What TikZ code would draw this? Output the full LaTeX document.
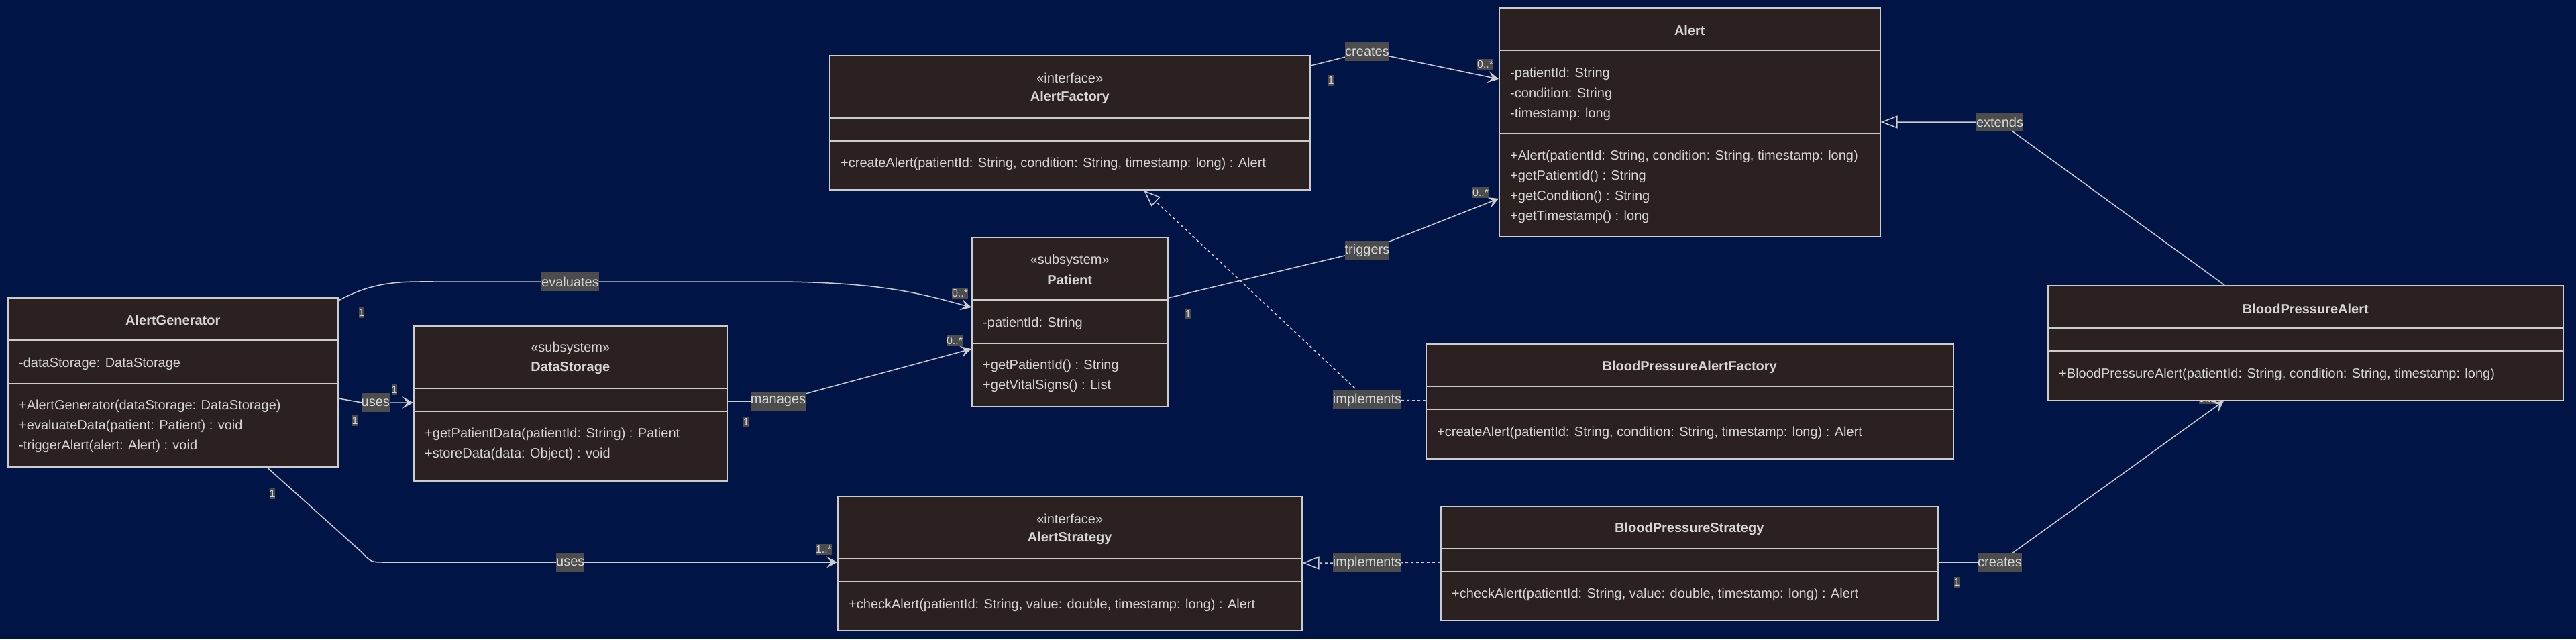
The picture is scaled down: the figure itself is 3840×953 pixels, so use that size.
\documentclass[tikz,border=0pt]{standalone}
\usepackage{fontspec}
\setmainfont{Liberation Sans}
\usetikzlibrary{arrows.meta}

\definecolor{bgnavy}{RGB}{0,21,70}
\definecolor{boxfill}{RGB}{43,33,33}
\definecolor{edgegray}{RGB}{204,204,204}
\definecolor{textgray}{RGB}{214,214,214}
\definecolor{tagfill}{RGB}{76,76,76}

\pgfdeclarelayer{behind}
\pgfsetlayers{behind,main}

\tikzset{
  classbox/.style={draw=edgegray, fill=boxfill, line width=1.5pt, anchor=north west, inner sep=0pt},
  divider/.style={draw=edgegray, line width=1.5pt},
  ctitle/.style={text=textgray, font=\fontsize{20}{24}\selectfont\bfseries, inner sep=0pt},
  cstereo/.style={text=textgray, font=\fontsize{20}{24}\selectfont, inner sep=0pt},
  member/.style={text=textgray, font=\fontsize{20}{24}\selectfont, anchor=west, xshift=17pt, inner sep=0pt},
  rel/.style={draw=edgegray, line width=1.5pt},
  nav/.style={rel, -{Stealth[length=16pt,width=17pt,inset=7pt]}},
  real/.style={rel, dash pattern=on 4pt off 4pt, -{Triangle[open,length=25pt,width=19pt]}},
  gen/.style={rel, -{Triangle[open,length=25pt,width=19pt]}},
  elabel/.style={fill=tagfill, text=textgray, font=\fontsize{20}{24}\selectfont, inner xsep=0pt, inner ysep=0pt, minimum height=28pt},
  mult/.style={fill=tagfill, text=textgray, font=\fontsize{16}{18}\selectfont, inner xsep=0pt, inner ysep=0pt, minimum height=16pt},
}

\begin{document}
\begin{tikzpicture}[x=1pt,y=-1pt]

\useasboundingbox (0,0) rectangle (3840,953);

\begin{pgfonlayer}{behind}
% Background
\fill[bgnavy] (0,0) rectangle (3840,953);
% Multiplicity hidden under BloodPressureAlert
\node[mult] (m-bpc-dst) at (3291,594) {0..1};
\end{pgfonlayer}

% AlertGenerator
\node[classbox, minimum width=492pt, minimum height=252pt] (ag) at (11,443) {};
\draw[divider] (ag.west |- 0,507) -- (ag.east |- 0,507);
\draw[divider] (ag.west |- 0,572) -- (ag.east |- 0,572);
\node[ctitle] (ag-name) at (ag.north |- 0,477) {AlertGenerator};
\node[member] (ag-a1) at (ag.west |- 0,542) {-dataStorage: DataStorage};
\node[member] (ag-m1) at (ag.west |- 0,605) {+AlertGenerator(dataStorage: DataStorage)};
\node[member] (ag-m2) at (ag.west |- 0,635) {+evaluateData(patient: Patient) : void};
\node[member] (ag-m3) at (ag.west |- 0,665) {-triggerAlert(alert: Alert) : void};

% DataStorage
\node[classbox, minimum width=467pt, minimum height=231pt] (ds) at (616,485) {};
\draw[divider] (ds.west |- 0,579) -- (ds.east |- 0,579);
\draw[divider] (ds.west |- 0,613) -- (ds.east |- 0,613);
\node[cstereo] (ds-st) at (ds.north |- 0,519) {«subsystem»};
\node[ctitle] (ds-name) at (ds.north |- 0,549) {DataStorage};
\node[member] (ds-m1) at (ds.west |- 0,647) {+getPatientData(patientId: String) : Patient};
\node[member] (ds-m2) at (ds.west |- 0,677) {+storeData(data: Object) : void};

% AlertFactory
\node[classbox, minimum width=716pt, minimum height=200pt] (af) at (1236,82) {};
\draw[divider] (af.west |- 0,176) -- (af.east |- 0,176);
\draw[divider] (af.west |- 0,210) -- (af.east |- 0,210);
\node[cstereo] (af-st) at (af.north |- 0,116) {«interface»};
\node[ctitle] (af-name) at (af.north |- 0,145) {AlertFactory};
\node[member] (af-m1) at (af.west |- 0,244) {+createAlert(patientId: String, condition: String, timestamp: long) : Alert};

% Alert
\node[classbox, minimum width=568pt, minimum height=341pt] (al) at (2234,11) {};
\draw[divider] (al.west |- 0,75) -- (al.east |- 0,75);
\draw[divider] (al.west |- 0,199) -- (al.east |- 0,199);
\node[ctitle] (al-name) at (al.north |- 0,45) {Alert};
\node[member] (al-a1) at (al.west |- 0,110) {-patientId: String};
\node[member] (al-a2) at (al.west |- 0,140) {-condition: String};
\node[member] (al-a3) at (al.west |- 0,170) {-timestamp: long};
\node[member] (al-m1) at (al.west |- 0,233) {+Alert(patientId: String, condition: String, timestamp: long)};
\node[member] (al-m2) at (al.west |- 0,263) {+getPatientId() : String};
\node[member] (al-m3) at (al.west |- 0,293) {+getCondition() : String};
\node[member] (al-m4) at (al.west |- 0,323) {+getTimestamp() : long};

% Patient
\node[classbox, minimum width=292pt, minimum height=252pt] (pat) at (1448,353) {};
\draw[divider] (pat.west |- 0,447) -- (pat.east |- 0,447);
\draw[divider] (pat.west |- 0,512) -- (pat.east |- 0,512);
\node[cstereo] (pat-st) at (pat.north |- 0,388) {«subsystem»};
\node[ctitle] (pat-name) at (pat.north |- 0,417) {Patient};
\node[member] (pat-a1) at (pat.west |- 0,482) {-patientId: String};
\node[member] (pat-m1) at (pat.west |- 0,545) {+getPatientId() : String};
\node[member] (pat-m2) at (pat.west |- 0,575) {+getVitalSigns() : List};

% BloodPressureAlertFactory
\node[classbox, minimum width=786pt, minimum height=171pt] (bpaf) at (2125,512) {};
\draw[divider] (bpaf.west |- 0,576) -- (bpaf.east |- 0,576);
\draw[divider] (bpaf.west |- 0,610) -- (bpaf.east |- 0,610);
\node[ctitle] (bpaf-name) at (bpaf.north |- 0,547) {BloodPressureAlertFactory};
\node[member] (bpaf-m1) at (bpaf.west |- 0,645) {+createAlert(patientId: String, condition: String, timestamp: long) : Alert};

% AlertStrategy
\node[classbox, minimum width=692pt, minimum height=200pt] (as) at (1248,739) {};
\draw[divider] (as.west |- 0,833) -- (as.east |- 0,833);
\draw[divider] (as.west |- 0,867) -- (as.east |- 0,867);
\node[cstereo] (as-st) at (as.north |- 0,773) {«interface»};
\node[ctitle] (as-name) at (as.north |- 0,802) {AlertStrategy};
\node[member] (as-m1) at (as.west |- 0,902) {+checkAlert(patientId: String, value: double, timestamp: long) : Alert};

% BloodPressureStrategy
\node[classbox, minimum width=741pt, minimum height=170pt] (bps) at (2147,754) {};
\draw[divider] (bps.west |- 0,818) -- (bps.east |- 0,818);
\draw[divider] (bps.west |- 0,852) -- (bps.east |- 0,852);
\node[ctitle] (bps-name) at (bps.north |- 0,788) {BloodPressureStrategy};
\node[member] (bps-m1) at (bps.west |- 0,886) {+checkAlert(patientId: String, value: double, timestamp: long) : Alert};

% BloodPressureAlert
\node[classbox, minimum width=768pt, minimum height=171pt] (bpa) at (3052,425) {};
\draw[divider] (bpa.west |- 0,489) -- (bpa.east |- 0,489);
\draw[divider] (bpa.west |- 0,523) -- (bpa.east |- 0,523);
\node[ctitle] (bpa-name) at (bpa.north |- 0,460) {BloodPressureAlert};
\node[member] (bpa-m1) at (bpa.west |- 0,558) {+BloodPressureAlert(patientId: String, condition: String, timestamp: long)};

% AlertGenerator evaluates Patient
\draw[nav] (ag.north east |- 0,448) .. controls (560,418) and (600,420) .. (650,420)
  -- node[elabel, pos=0.4] (lbl-eval) {evaluates} (1150,420)
  .. controls (1320,420) and (1380,440) .. (pat.west |- 0,458);
\node[mult] (m-eval-src) at (539,466) {1};
\node[mult] (m-eval-dst) at (1431,437) {0..*};

% AlertGenerator uses DataStorage
\draw[nav] (ag.east |- 0,594) -- (540,600) -- node[elabel, pos=0.26] (lbl-uses1) {uses} (ds.west |- 0,600);
\node[mult] (m-uses1-src) at (529,627) {1};
\node[mult] (m-uses1-dst) at (588,581) {1};

% AlertGenerator uses AlertStrategy
\draw[nav] (ag.south -| 398,0) -- (539,823) .. controls (553,838) .. (574,838)
  -- node[elabel, pos=0.41] (lbl-uses2) {uses} (as.west |- 0,838);
\node[mult] (m-uses2-src) at (406,736) {1};
\node[mult] (m-uses2-dst) at (1228,819) {1..*};

% DataStorage manages Patient
\draw[nav] (ds.east |- 0,598) -- (1160,598) node[elabel] (lbl-man) {manages} -- (pat.west |- 0,520);
\node[mult] (m-man-src) at (1112,629) {1};
\node[mult] (m-man-dst) at (1423,508) {0..*};

% Patient triggers Alert
\draw[nav] (pat.east |- 0,444) -- (2038,373) node[elabel] (lbl-trig) {triggers} -- (al.west |- 0,296);
\node[mult] (m-trig-src) at (1771,468) {1};
\node[mult] (m-trig-dst) at (2207,287) {0..*};

% AlertFactory creates Alert
\draw[nav] (af.east |- 0,98) -- (2038,77) node[elabel] (lbl-afc) {creates} -- (al.west |- 0,118);
\node[mult] (m-afc-src) at (1984,120) {1};
\node[mult] (m-afc-dst) at (2214,96) {0..*};

% BloodPressureAlertFactory implements AlertFactory
\draw[real] (bpaf.west |- 0,597) -- (2038,596) node[elabel] (lbl-imp1) {implements} -- (af.south -| 1705,0);

% BloodPressureStrategy implements AlertStrategy
\draw[real] (bps.west |- 0,838) -- (2038,839) node[elabel] (lbl-imp2) {implements} -- (as.east |- 0,839);

% BloodPressureAlert extends Alert
\draw[gen] (bpa.north -| 3316,0) -- (2981,182) node[elabel] (lbl-ext) {extends} -- (al.east |- 0,182);

% BloodPressureStrategy creates BloodPressureAlert
\draw[nav] (bps.east |- 0,838) -- (2981,838) node[elabel] (lbl-bpc) {creates} -- (bpa.south -| 3315,0);
\node[mult] (m-bpc-src) at (2917,868) {1};

\end{tikzpicture}
\end{document}
